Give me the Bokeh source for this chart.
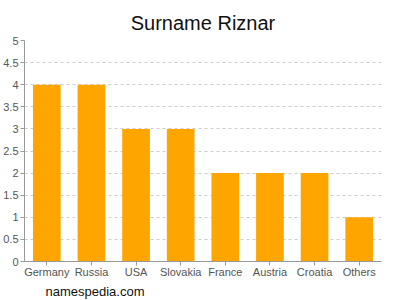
from bokeh.plotting import figure
from bokeh.models import Title, Range1d, FixedTicker
from bokeh.embed import file_html
from bokeh.resources import INLINE

countries = ["Germany", "Russia", "USA", "Slovakia", "France", "Austria", "Croatia", "Others"]
counts = [4, 4, 3, 3, 2, 2, 2, 1]
y_ticks = [0, 0.5, 1, 1.5, 2, 2.5, 3, 3.5, 4, 4.5, 5]

p = figure(x_range=countries, width=400, height=300, output_backend="svg",
           toolbar_location=None, min_border_left=21, min_border_right=19,
           min_border_top=40, min_border_bottom=0)
p.y_range = Range1d(0, 5)

p.vbar(x=countries, top=counts, width=0.62, color="#FFA500", line_color=None)

p.title.text = "Surname Riznar"
p.title.align = "center"
p.title.vertical_align = "top"
p.title.text_font = "Liberation Sans"
p.title.text_font_size = "20px"
p.title.text_font_style = "normal"
p.title.text_color = "#111111"
p.title.standoff = 10

p.add_layout(Title(text="namespedia.com", align="left", text_font="Liberation Sans",
                   text_font_size="13px", text_font_style="normal", offset=21,
                   standoff=3, text_color="#111111"), "below")

p.yaxis.ticker = FixedTicker(ticks=y_ticks)
p.yaxis.major_label_overrides = {0: "0", 1: "1", 2: "2", 3: "3", 4: "4", 5: "5"}
for ax in (p.xaxis[0], p.yaxis[0]):
    ax.axis_line_color = "#999999"
    ax.major_tick_line_color = "#999999"
    ax.minor_tick_line_color = None
    ax.major_label_text_color = "#555555"
    ax.major_label_text_font = "Liberation Sans"
    ax.major_label_text_font_size = "11px"
    ax.major_tick_out = 4
    ax.major_tick_in = 0
p.yaxis.major_label_standoff = 2
p.xaxis.major_label_standoff = 0

p.xgrid.grid_line_color = None
p.ygrid.grid_line_color = "#cccccc"
p.ygrid.grid_line_dash = "3 3"
p.outline_line_color = None
p.x_range.range_padding = 0

open("out.html", "w").write(file_html(p, INLINE))
